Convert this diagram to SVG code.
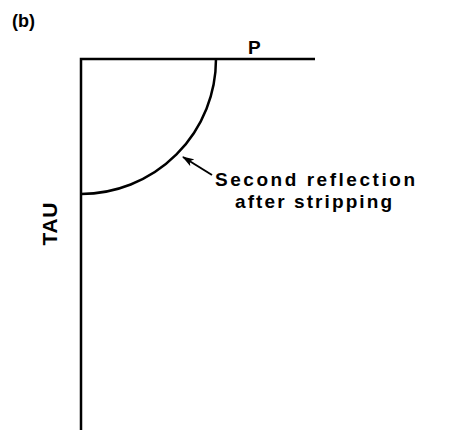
<svg xmlns="http://www.w3.org/2000/svg" width="475" height="430" viewBox="0 0 475 430">
<style>
.ax{stroke:#000;stroke-width:2.5;fill:none}
.t{font-family:"Liberation Sans",Arial,sans-serif;font-weight:bold;fill:#000}
</style>
<defs>
<marker id="ah" markerWidth="12" markerHeight="8" refX="11" refY="4" orient="auto" markerUnits="userSpaceOnUse">
<path d="M0,0 L12,4 L0,8 L3,4 Z" fill="#000"/>
</marker>
</defs>
<rect width="475" height="430" fill="#fff"/>
<text class="t" x="12" y="27" font-size="18">(b)</text>
<g id="axes">
<path class="ax" d="M81,430 L81,59 L315,59"/>
<text class="t" x="248" y="54" font-size="19">P</text>
<text class="t" font-size="21" transform="translate(57,224) rotate(-90)" text-anchor="middle" textLength="43" lengthAdjust="spacing">TAU</text>
</g>
<g id="curve">
<path class="ax" d="M216,59 A135,135 0 0 1 81,194"/>
</g>
<g id="connectors">
<line x1="212" y1="175" x2="183" y2="157" stroke="#000" stroke-width="2" marker-end="url(#ah)"/>
</g>
<g id="label">
<text class="t" x="215" y="186" font-size="19" textLength="200" lengthAdjust="spacing">Second reflection</text>
<text class="t" x="235" y="208" font-size="19" textLength="157" lengthAdjust="spacing">after stripping</text>
</g>
</svg>
